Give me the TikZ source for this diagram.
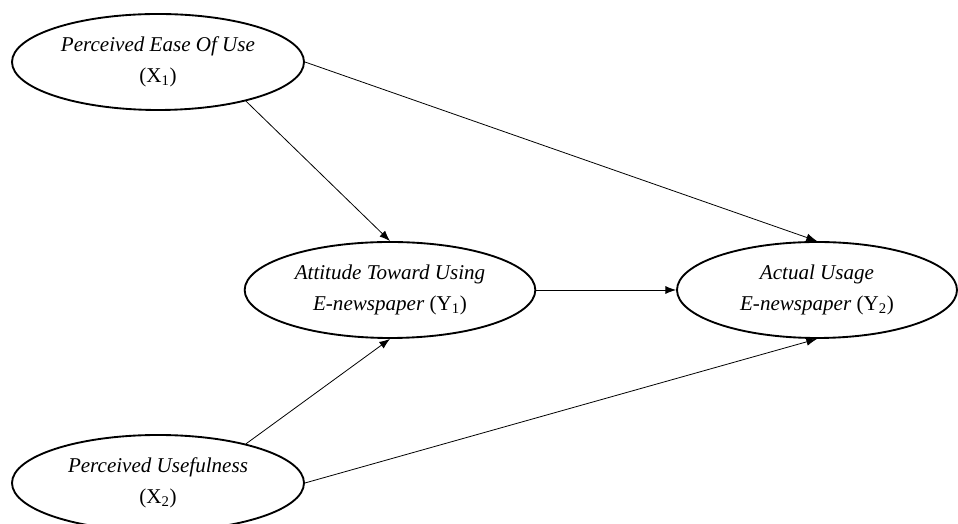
\documentclass[tikz,border=0pt]{standalone}
\usepackage{fontspec}
\setmainfont{Liberation Serif}
\usetikzlibrary{arrows.meta,shapes.geometric}
\tikzset{
  construct/.style={draw=black,ellipse,line width=1.4pt,inner sep=0pt,align=center,
    font=\fontsize{15.8}{23}\selectfont,minimum height=72pt},
  path/.style={-{Latex[length=8pt,width=6pt]},draw=black,line width=0.6pt}
}

\begin{document}
\begin{tikzpicture}[x=0.75pt,y=0.75pt]
  \path[use as bounding box] (0,0) rectangle (958,524);

  % Exogenous constructs.
  \node[construct,minimum width=219pt] (x1) at (158,462)
    {\textit{Perceived Ease Of Use}\\(X\textsubscript{1})};
  \node[construct,minimum width=219pt] (x2) at (158,41)
    {\textit{Perceived Usefulness}\\(X\textsubscript{2})};

  % Endogenous constructs.
  \node[construct,minimum width=218pt] (y1) at (390,234)
    {\textit{Attitude Toward Using}\\\textit{E-newspaper} (Y\textsubscript{1})};
  \node[construct,minimum width=210pt] (y2) at (817,234)
    {\textit{Actual Usage}\\\textit{E-newspaper} (Y\textsubscript{2})};

  % Hypothesised paths.
  \draw[path] (x1.-24) -- (y1.north);
  \draw[path] (x1.east) -- (y2.north);
  \draw[path] (x2.24) -- (y1.south);
  \draw[path] (x2.east) -- (y2.south);
  \draw[path] (y1.east) -- (y2.west);
\end{tikzpicture}
\end{document}
